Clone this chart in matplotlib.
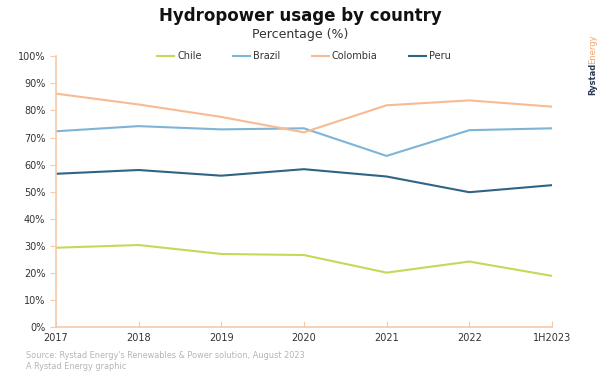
import matplotlib.pyplot as plt
import numpy as np

years = ['2017', '2018', '2019', '2020', '2021', '2022', '1H2023']
chile = [29.3, 30.3, 27.0, 26.6, 20.1, 24.2, 18.9]
brazil = [72.3, 74.2, 73.0, 73.4, 63.2, 72.7, 73.4]
colombia = [86.2, 82.2, 77.6, 71.9, 81.9, 83.7, 81.4]
peru = [56.6, 58.0, 55.9, 58.3, 55.6, 49.8, 52.4]

series = [('Chile', chile, '#c3da58'),
          ('Brazil', brazil, '#7eb4d6'),
          ('Colombia', colombia, '#f7bb93'),
          ('Peru', peru, '#2f6584')]

axis_col = '#f7c9a8'
text_col = '#333333'

fig = plt.figure(figsize=(6, 3.88), dpi=100)
ax = fig.add_axes([0.093, 0.157, 0.827, 0.698])

x = np.arange(len(years))
for name, vals, col in series:
    ax.plot(x, vals, color=col, lw=1.5, label=name)

ax.set_xlim(0, len(years) - 1)
ax.set_ylim(0, 100)
ax.set_xticks(x)
ax.set_xticklabels(years)
ax.set_yticks(np.arange(0, 101, 10))
ax.set_yticklabels([f'{v}%' for v in range(0, 101, 10)])
for s in ['top', 'right']:
    ax.spines[s].set_visible(False)
for s in ['left', 'bottom']:
    ax.spines[s].set_color(axis_col)
    ax.spines[s].set_linewidth(1.2)
ax.tick_params(axis='y', colors=axis_col, length=4, labelsize=7, labelcolor=text_col)
ax.tick_params(axis='x', colors=axis_col, direction='in', length=4, labelsize=7,
               labelcolor=text_col, pad=4)

ax.legend(loc='center', bbox_to_anchor=(0.5, 1.0), ncol=4, frameon=False,
          fontsize=7, handlelength=1.8, handletextpad=0.3, columnspacing=3.2,
          labelcolor=text_col)

fig.text(0.5, 0.958, 'Hydropower usage by country', ha='center', va='center',
         fontsize=12, fontweight='bold', color='#111111')
fig.text(0.5, 0.912, 'Percentage (%)', ha='center', va='center',
         fontsize=9, color=text_col)

fig.text(0.043, 0.085, "Source: Rystad Energy's Renewables & Power solution, August 2023",
         fontsize=5.9, color='#b5b5b5', va='center')
fig.text(0.043, 0.055, 'A Rystad Energy graphic', fontsize=5.9, color='#b5b5b5', va='center')

fig.text(0.988, 0.755, 'Rystad', rotation=90, fontsize=6, fontweight='bold',
         color='#2a3a55', ha='center', va='bottom')
fig.text(0.988, 0.835, 'Energy', rotation=90, fontsize=6, color='#f0a56e',
         ha='center', va='bottom')

fig.savefig('out.png', dpi=100)
